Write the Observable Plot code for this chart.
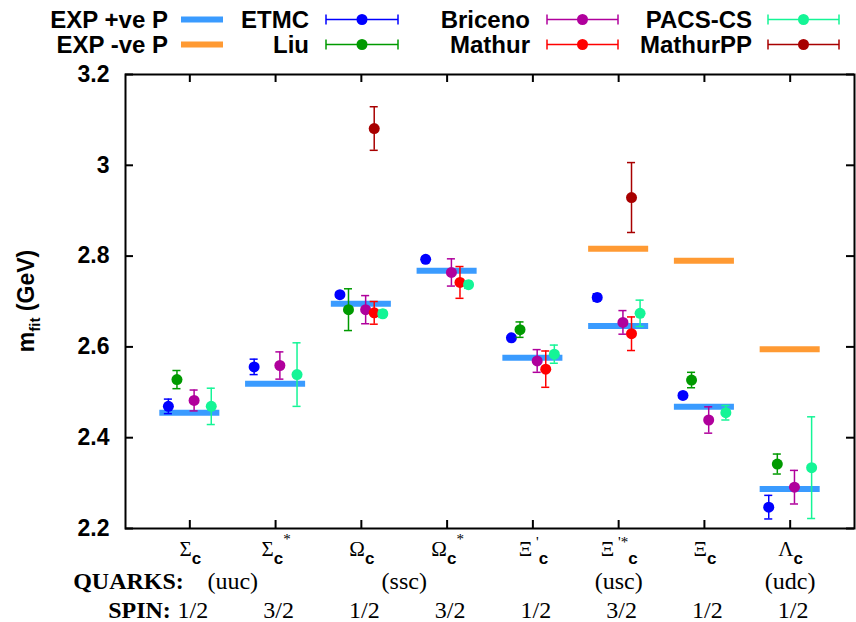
<!DOCTYPE html>
<html><head><meta charset="utf-8">
<script src="https://cdn.jsdelivr.net/npm/d3@7"></script>
<script src="https://cdn.jsdelivr.net/npm/@observablehq/plot@0.6"></script>
<style>body{margin:0;background:#fff}</style>
</head><body><div id="chart"></div>
<script>
// ---- data ----
const categories = ["Σc", "Σc*", "Ωc", "Ωc*", "Ξ'c", "Ξ'*c", "Ξc", "Λc"];
const catGreek = ["Σ", "Σ", "Ω", "Ω", "Ξ", "Ξ", "Ξ", "Λ"];
const catSup = ["", "*", "", "*", "'", "'*", "", ""];
const quarkPos = [1.5, 3.5, 6, 8];
const quarkLabels = ["(uuc)", "(ssc)", "(usc)", "(udc)"];
const spinLabels = ["1/2", "3/2", "1/2", "3/2", "1/2", "3/2", "1/2", "1/2"];
const yTicks = [2.2, 2.4, 2.6, 2.8, 3.0, 3.2];

const expPosMass = [2.455, 2.519, 2.695, 2.768, 2.576, 2.646, 2.468, 2.287];
const expNegMass = [null, null, null, null, null, 2.816, 2.790, 2.595];

const etmcMass = [2.469, 2.556, 2.715, 2.793, 2.620, 2.709, 2.493, 2.247];
const etmcErr  = [0.016, 0.017, 0.005, 0.005, 0.005, 0.008, 0.005, 0.026];
const liuMass  = [2.528, null, 2.682, null, 2.638, null, 2.527, 2.342];
const liuErr   = [0.020, null, 0.046, null, 0.017, null, 0.017, 0.022];
const briMass  = [2.482, 2.559, 2.682, 2.764, 2.569, 2.654, 2.439, 2.291];
const briErr   = [0.023, 0.030, 0.031, 0.030, 0.025, 0.026, 0.029, 0.037];
const matMass  = [null, null, 2.675, 2.742, 2.551, 2.629, null, null];
const matErr   = [null, null, 0.025, 0.035, 0.040, 0.037, null, null];
const pacsMass = [2.469, 2.539, 2.673, 2.737, 2.584, 2.674, 2.455, 2.334];
const pacsErr  = [0.040, 0.070, 0.008, 0.008, 0.020, 0.029, 0.016, 0.112];
const mppMass  = [null, null, 3.081, null, null, 2.929, null, null];
const mppErr   = [null, null, 0.048, null, null, 0.077, null, null];

// ---- styles ----
const series = [
  {name: "ETMC",     mass: etmcMass, err: etmcErr, color: "#0000ff", offset: -0.25},
  {name: "Liu",      mass: liuMass,  err: liuErr,  color: "#009a00", offset: -0.15},
  {name: "Briceno",  mass: briMass,  err: briErr,  color: "#b0009c", offset: 0.05},
  {name: "Mathur",   mass: matMass,  err: matErr,  color: "#ff0000", offset: 0.15},
  {name: "PACS-CS",  mass: pacsMass, err: pacsErr, color: "#14f596", offset: 0.25},
  {name: "MathurPP", mass: mppMass,  err: mppErr,  color: "#a80000", offset: 0.15}
];
const expPosColor = "#3a9bff", expNegColor = "#ff9a33";
const W = 856, H = 622, mL = 125, mR = 2, mT = 74, mB = 94;
const frameW = W - mL - mR, frameH = H - mT - mB;
const tickLen = 8, halfBar = 0.35, capHalf = 0.047;

const expPosRows = expPosMass.map((m, i) => ({x: i + 1, m})).filter(d => d.m != null);
const expNegRows = expNegMass.map((m, i) => ({x: i + 1, m})).filter(d => d.m != null);
const xTicks = categories.map((c, i) => i + 1);

const seriesMarks = series.flatMap(s => {
  const rows = s.mass.map((m, i) => m == null ? null : ({x: i + 1 + s.offset, m, lo: m - s.err[i], hi: m + s.err[i]})).filter(Boolean);
  return [
    Plot.ruleX(rows, {x: "x", y1: "lo", y2: "hi", stroke: s.color, strokeWidth: 1.5}),
    Plot.ruleY(rows, {y: "lo", x1: d => d.x - capHalf, x2: d => d.x + capHalf, stroke: s.color, strokeWidth: 1.5}),
    Plot.ruleY(rows, {y: "hi", x1: d => d.x - capHalf, x2: d => d.x + capHalf, stroke: s.color, strokeWidth: 1.5}),
    Plot.dot(rows, {x: "x", y: "m", r: 5.5, fill: s.color, stroke: "none"})
  ];
});

const fmt = d => String(+d.toFixed(1));

const chart = Plot.plot({
  width: W, height: H,
  marginLeft: mL, marginRight: mR, marginTop: mT, marginBottom: mB,
  x: {type: "linear", domain: [0.25, 8.75], axis: null},
  y: {type: "linear", domain: [2.2, 3.2], axis: null},
  style: {background: "white", fontFamily: "Liberation Sans", color: "black"},
  marks: [
    Plot.ruleY(expPosRows, {y: "m", x1: d => d.x - halfBar, x2: d => d.x + halfBar, stroke: expPosColor, strokeWidth: 6}),
    Plot.ruleY(expNegRows, {y: "m", x1: d => d.x - halfBar, x2: d => d.x + halfBar, stroke: expNegColor, strokeWidth: 6}),
    ...seriesMarks,
    Plot.tickY(yTicks, {y: d => d, insetRight: frameW - tickLen, stroke: "black", strokeWidth: 2}),
    Plot.tickY(yTicks, {y: d => d, insetLeft: frameW - tickLen, stroke: "black", strokeWidth: 2}),
    Plot.tickX(xTicks, {x: d => d, insetTop: frameH - tickLen, stroke: "black", strokeWidth: 2}),
    Plot.tickX(xTicks, {x: d => d, insetBottom: frameH - tickLen, stroke: "black", strokeWidth: 2}),
    Plot.frame({stroke: "black", strokeWidth: 2}),
    Plot.text(yTicks, {y: d => d, text: fmt, frameAnchor: "left", dx: -16, textAnchor: "end",
      fontSize: 23, fontWeight: "bold", fontFamily: "Liberation Sans", fill: "black"}),
    Plot.text(quarkLabels, {x: (d, i) => quarkPos[i], text: d => d, frameAnchor: "bottom", lineAnchor: "bottom",
      dy: 60, fontSize: 24, fontFamily: "Liberation Serif", fill: "black"}),
    Plot.text(["QUARKS:"], {x: () => 1, text: d => d, frameAnchor: "bottom", lineAnchor: "bottom", textAnchor: "end",
      dx: -6, dy: 60, fontSize: 24, fontWeight: "bold", fontFamily: "Liberation Serif", fill: "black"}),
    Plot.text(spinLabels, {x: (d, i) => i + 1, text: d => d, frameAnchor: "bottom", lineAnchor: "bottom",
      dx: 3, dy: 89, fontSize: 24, fontFamily: "Liberation Serif", fill: "black"}),
    Plot.text(["SPIN:"], {x: () => 1, text: d => d, frameAnchor: "bottom", lineAnchor: "bottom", textAnchor: "end",
      dx: -19, dy: 89, fontSize: 24, fontWeight: "bold", fontFamily: "Liberation Serif", fill: "black"})
  ]
});

// ---- rich text: category labels, y title, legend ----
const svg = d3.select(chart);
const xs = chart.scale("x"), ys = chart.scale("y");
const base = ys.apply(2.2) + 28;
categories.forEach((c, i) => {
  const t = svg.append("text").attr("x", xs.apply(i + 1) + 1).attr("y", base)
    .attr("text-anchor", "middle").attr("fill", "black")
    .style("font-family", "Liberation Serif").style("font-size", "21px");
  t.append("tspan").text(catGreek[i]);
  const sup = catSup[i];
  if (sup.startsWith("'")) {
    t.append("tspan").attr("dy", -9).style("font-size", "15px").text(" " + sup);
    t.append("tspan").attr("dy", 17).style("font-family", "Liberation Sans").style("font-weight", "bold").style("font-size", "17px").text("c");
  } else {
    t.append("tspan").attr("dy", 8).style("font-family", "Liberation Sans").style("font-weight", "bold").style("font-size", "17px").text("c");
    if (sup) t.append("tspan").attr("dy", -20).style("font-size", "15px").text(sup);
  }
});

const yt = svg.append("text").attr("transform", "translate(34,301) rotate(-90)")
  .attr("text-anchor", "middle").attr("fill", "black")
  .style("font-family", "Liberation Sans").style("font-weight", "bold").style("font-size", "23px");
yt.append("tspan").text("m");
yt.append("tspan").attr("dy", 6).style("font-size", "15px").text("fit");
yt.append("tspan").attr("dy", -6).text(" (GeV)");

// legend
const lg = svg.append("g").style("font-family", "Liberation Sans").style("font-weight", "bold").style("font-size", "24px");
const rowY = [19.5, 44.5];
const legendItems = [
  {label: "EXP +ve P", col: 0, row: 0, kind: "bar", color: expPosColor},
  {label: "EXP -ve P", col: 0, row: 1, kind: "bar", color: expNegColor},
  {label: "ETMC", col: 1, row: 0, kind: "pt", color: series[0].color},
  {label: "Liu", col: 1, row: 1, kind: "pt", color: series[1].color},
  {label: "Briceno", col: 2, row: 0, kind: "pt", color: series[2].color},
  {label: "Mathur", col: 2, row: 1, kind: "pt", color: series[3].color},
  {label: "PACS-CS", col: 3, row: 0, kind: "pt", color: series[4].color},
  {label: "MathurPP", col: 3, row: 1, kind: "pt", color: series[5].color}
];
const colTextEnd = [168, 309, 530, 752];
const colSample = [[181, 223], [326, 398], [547, 618], [768, 839]];
legendItems.forEach(it => {
  const y = rowY[it.row];
  lg.append("text").attr("x", colTextEnd[it.col]).attr("y", y + 8.5).attr("text-anchor", "end").attr("fill", "black").text(it.label);
  const [a, b] = colSample[it.col];
  if (it.kind === "bar") {
    lg.append("line").attr("x1", a).attr("x2", b).attr("y1", y).attr("y2", y).attr("stroke", it.color).attr("stroke-width", 6);
  } else {
    lg.append("line").attr("x1", a).attr("x2", b).attr("y1", y).attr("y2", y).attr("stroke", it.color).attr("stroke-width", 1.5);
    lg.append("line").attr("x1", a).attr("x2", a).attr("y1", y - 5).attr("y2", y + 5).attr("stroke", it.color).attr("stroke-width", 1.5);
    lg.append("line").attr("x1", b).attr("x2", b).attr("y1", y - 5).attr("y2", y + 5).attr("stroke", it.color).attr("stroke-width", 1.5);
    lg.append("circle").attr("cx", (a + b) / 2).attr("cy", y).attr("r", 5.5).attr("fill", it.color);
  }
});

document.getElementById("chart").appendChild(chart);
</script>
</body></html>
